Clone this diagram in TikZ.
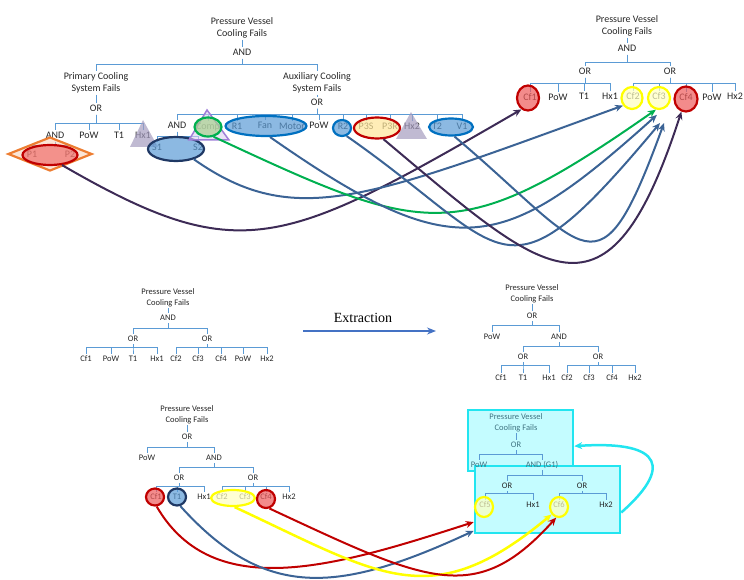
\documentclass[tikz,border=0pt]{standalone}
\usepackage{fontspec}
\setmainfont{Carlito}
\newfontfamily\timesfont{Liberation Serif}
\usetikzlibrary{
    shapes.geometric,
    arrows.meta
}
\definecolor{treeblue}{HTML}{5B9BD5}
\definecolor{hlblue}{HTML}{5B9BD5}
\definecolor{hlblueb}{HTML}{0070C0}
\definecolor{hlnavy}{HTML}{1F3864}
\definecolor{hlred}{HTML}{C00000}
\definecolor{cfred}{HTML}{EE5A5A}
\definecolor{hlyel}{HTML}{FFFF00}
\definecolor{cfyel}{HTML}{FFFFC0}
\definecolor{p3yel}{HTML}{FFE699}
\definecolor{hlgreen}{HTML}{00B050}
\definecolor{cfgreen}{HTML}{A9D18E}
\definecolor{hlorange}{HTML}{ED7D31}
\definecolor{cforange}{HTML}{F8CBAD}
\definecolor{trigray}{HTML}{A59CBF}
\definecolor{trilila}{HTML}{A07FD8}
\definecolor{trililf}{HTML}{DCD0F2}
\definecolor{cpurple}{HTML}{3D2B56}
\definecolor{cblue}{HTML}{3B6395}
\definecolor{cyanb}{HTML}{22E5F0}
\definecolor{cyanf}{HTML}{C4FCFF}
\definecolor{boxtxt}{HTML}{3F7482}
\definecolor{extblue}{HTML}{4472C4}

\tikzset{
    lbl/.style={font=\fontsize{10}{12}\selectfont, inner sep=1pt, text height=7.2pt, text depth=1.7pt, text=black!85},
    ttl/.style={font=\fontsize{10}{12.5}\selectfont, inner sep=1pt, align=center, text=black!85},
    slbl/.style={font=\fontsize{8.5}{10}\selectfont, inner sep=1pt, text height=6.1pt, text depth=1.5pt, text=black!85},
    sttl/.style={font=\fontsize{8.5}{10.5}\selectfont, inner sep=1pt, align=center, text=black!85},
    tline/.style={draw=treeblue, line width=0.7pt},
    hl/.style={ellipse, inner sep=0pt, line width=2.2pt, fill opacity=0.7},
    redhl/.style={hl, draw=hlred, fill=cfred},
    yelhl/.style={hl, draw=hlyel, fill=cfyel},
    bluehl/.style={hl, draw=hlblueb, fill=hlblue},
    navyhl/.style={hl, draw=hlnavy, fill=hlblue},
    cbox/.style={draw=cyanb, fill=cyanf, line width=2.5pt, inner sep=0pt},
    conn/.style={line width=2pt, -{Stealth[length=8pt,width=7pt]}}
}

\begin{document}
\begin{tikzpicture}[x=1pt,y=-1pt]
\useasboundingbox (0,0) rectangle (744,580);

% cyan boxes behind the reduced tree
\node[cbox, minimum width=105, minimum height=61] (box1) at (520.5,440.5) {};
\node[cbox, minimum width=145, minimum height=67] (box2) at (547.5,499.5) {};

% ---- tree A: full fault tree
\node[ttl] (aTop) at (242,28) {Pressure Vessel\\Cooling Fails};
\node[lbl] (aAnd) at (242,53) {AND};
\node[ttl] (aPri) at (96,83) {Primary Cooling\\System Fails};
\node[ttl] (aAux) at (317,83) {Auxiliary Cooling\\System Fails};
\node[lbl] (aOrP) at (96,109) {OR};
\node[lbl] (aOrX) at (317,103) {OR};
\node[lbl] (aAnd2) at (55,136) {AND};
\node[lbl] (aPow1) at (89,136) {PoW};
\node[lbl] (aT1) at (119,136) {T1};
\node[lbl] (aHx1) at (143,136) {Hx1};
\node[lbl] (aP1) at (32,155) {P1};
\node[lbl] (aP2) at (70,155) {P2};
\node[lbl] (aAnd3) at (177,126) {AND};
\node[lbl] (aComp) at (208,127) {Comp};
\node[lbl] (aR1) at (237,127) {R1};
\node[lbl] (aFan) at (265,126) {Fan};
\node[lbl] (aMot) at (292,127) {Motor};
\node[lbl] (aPow2) at (319,126) {PoW};
\node[lbl] (aR2) at (343,127) {R2};
\node[lbl] (aP3S) at (366,127) {P3S};
\node[lbl] (aP3R) at (390,127) {P3R};
\node[lbl] (aHx2) at (412,127) {Hx2};
\node[lbl] (aT2) at (437,127) {T2};
\node[lbl] (aV1) at (462,127) {V1};
\node[lbl] (aS1) at (157,148) {S1};
\node[lbl] (aS2) at (198,148) {S2};

\draw[tline] (aTop) -- (aAnd);
\foreach \c in {aPri,aAux} \draw[tline] (aAnd.south) -- ++(0,5.5) -| (\c.north);
\draw[tline] (aPri) -- (aOrP);
\draw[tline] (aAux) -- (aOrX);
\foreach \c in {aAnd2,aPow1,aT1,aHx1} \draw[tline] (aOrP.south) -- ++(0,8.5) -| (\c.north);
\foreach \c in {aAnd3,aComp,aR1,aFan,aMot,aPow2,aR2,aP3S,aP3R,aHx2,aT2,aV1}
    \draw[tline] (aOrX.south) -- ++(0,5.5) -| (\c.north);
\foreach \c in {aP1,aP2} \draw[tline] (aAnd2.south) -- ++(0,3.5) -| (\c.north);
\foreach \c in {aS1,aS2} \draw[tline] (aAnd3.south) -- ++(0,4.5) -| (\c.north);

% ---- tree B: after merging
\node[ttl] (bTop) at (627,26) {Pressure Vessel\\Cooling Fails};
\node[lbl] (bAnd) at (627,49) {AND};
\node[lbl] (bOr1) at (585,72) {OR};
\node[lbl] (bOr2) at (670,72) {OR};
\node[lbl] (bCf1) at (530,98) {Cf1};
\node[lbl] (bPow1) at (558,98) {PoW};
\node[lbl] (bT1) at (584,97) {T1};
\node[lbl] (bHx1) at (610,97) {Hx1};
\node[lbl] (bCf2) at (633,97) {Cf2};
\node[lbl] (bCf3) at (659,97) {Cf3};
\node[lbl] (bCf4) at (686,98) {Cf4};
\node[lbl] (bPow2) at (712,98) {PoW};
\node[lbl] (bHx2) at (735,97) {Hx2};

\draw[tline] (bTop) -- (bAnd);
\foreach \c in {bOr1,bOr2} \draw[tline] (bAnd.south) -- ++(0,7.5) -| (\c.north);
\foreach \c in {bCf1,bPow1,bT1,bHx1} \draw[tline] (bOr1.south) -- ++(0,5.5) -| (\c.north);
\foreach \c in {bCf2,bCf3,bCf4,bPow2,bHx2} \draw[tline] (bOr2.south) -- ++(0,5.5) -| (\c.north);

% ---- tree C: before extraction
\node[sttl] (cTop) at (168,298) {Pressure Vessel\\Cooling Fails};
\node[slbl] (cAnd) at (168,318) {AND};
\node[slbl] (cOr1) at (133,339) {OR};
\node[slbl] (cOr2) at (207,339) {OR};
\node[slbl] (cCf1) at (86,359) {Cf1};
\node[slbl] (cPow1) at (111,359) {PoW};
\node[slbl] (cT1) at (133,359) {T1};
\node[slbl] (cHx1) at (157,359) {Hx1};
\node[slbl] (cCf2) at (176,359) {Cf2};
\node[slbl] (cCf3) at (198,359) {Cf3};
\node[slbl] (cCf4) at (221,359) {Cf4};
\node[slbl] (cPow2) at (243,359) {PoW};
\node[slbl] (cHx2) at (267,359) {Hx2};

\draw[tline] (cTop) -- (cAnd);
\foreach \c in {cOr1,cOr2} \draw[tline] (cAnd.south) -- ++(0,5.3) -| (\c.north);
\foreach \c in {cCf1,cPow1,cT1,cHx1} \draw[tline] (cOr1.south) -- ++(0,3.3) -| (\c.north);
\foreach \c in {cCf2,cCf3,cCf4,cPow2,cHx2} \draw[tline] (cOr2.south) -- ++(0,3.3) -| (\c.north);

% extraction arrow
\coordinate (ext1) at (303,331);
\coordinate (ext2) at (436,331);
\draw[extblue, line width=1.2pt, -{Stealth[length=9pt,width=7pt]}] (ext1) -- (ext2);
\node[font=\timesfont\fontsize{14}{16}\selectfont] (extLbl) at (363,318) {Extraction};

% ---- tree D: after extraction
\node[sttl] (dTop) at (532,294) {Pressure Vessel\\Cooling Fails};
\node[slbl] (dOr) at (532,316) {OR};
\node[slbl] (dPow) at (492,337) {PoW};
\node[slbl] (dAnd) at (559,337) {AND};
\node[slbl] (dOr1) at (523,357) {OR};
\node[slbl] (dOr2) at (598,357) {OR};
\node[slbl] (dCf1) at (501,378) {Cf1};
\node[slbl] (dT1) at (523,378) {T1};
\node[slbl] (dHx1) at (549,378) {Hx1};
\node[slbl] (dCf2) at (567,378) {Cf2};
\node[slbl] (dCf3) at (589,378) {Cf3};
\node[slbl] (dCf4) at (612,378) {Cf4};
\node[slbl] (dHx2) at (635,378) {Hx2};

\draw[tline] (dTop) -- (dOr);
\foreach \c in {dPow,dAnd} \draw[tline] (dOr.south) -- ++(0,4.3) -| (\c.north);
\foreach \c in {dOr1,dOr2} \draw[tline] (dAnd.south) -- ++(0,4.3) -| (\c.north);
\foreach \c in {dCf1,dT1,dHx1} \draw[tline] (dOr1.south) -- ++(0,3.3) -| (\c.north);
\foreach \c in {dCf2,dCf3,dCf4,dHx2} \draw[tline] (dOr2.south) -- ++(0,3.3) -| (\c.north);

% ---- tree E: bottom left
\node[sttl] (eTop) at (187,415) {Pressure Vessel\\Cooling Fails};
\node[slbl] (eOr) at (187,437) {OR};
\node[slbl] (ePow) at (147,458) {PoW};
\node[slbl] (eAnd) at (214,458) {AND};
\node[slbl] (eOr1) at (179,478) {OR};
\node[slbl] (eOr2) at (253,478) {OR};
\node[slbl] (eCf1) at (156,497) {Cf1};
\node[slbl] (eT1) at (177,497) {T1};
\node[slbl] (eHx1) at (204,497) {Hx1};
\node[slbl] (eCf2) at (222,497) {Cf2};
\node[slbl] (eCf3) at (245,497) {Cf3};
\node[slbl] (eCf4) at (266,497) {Cf4};
\node[slbl] (eHx2) at (289,497) {Hx2};

\draw[tline] (eTop) -- (eOr);
\foreach \c in {ePow,eAnd} \draw[tline] (eOr.south) -- ++(0,5.3) -| (\c.north);
\foreach \c in {eOr1,eOr2} \draw[tline] (eAnd.south) -- ++(0,4.3) -| (\c.north);
\foreach \c in {eCf1,eT1,eHx1} \draw[tline] (eOr1.south) -- ++(0,3.3) -| (\c.north);
\foreach \c in {eCf2,eCf3,eCf4,eHx2} \draw[tline] (eOr2.south) -- ++(0,3.3) -| (\c.north);

% ---- tree F: bottom right, in the boxes
\node[sttl, text=boxtxt] (fTop) at (516,423) {Pressure Vessel\\Cooling Fails};
\node[slbl, text=boxtxt] (fOr) at (516,445) {OR};
\node[slbl, text=boxtxt] (fPow) at (479,465) {PoW};
\node[slbl, text=boxtxt] (fAnd) at (542,465) {AND (G1)};
\node[slbl] (fOr1) at (507,486) {OR};
\node[slbl] (fOr2) at (582,486) {OR};
\node[slbl] (fCf5) at (485,505) {Cf5};
\node[slbl] (fHx1) at (533,505) {Hx1};
\node[slbl] (fCf6) at (559,505) {Cf6};
\node[slbl] (fHx2) at (606,505) {Hx2};

\draw[tline] (fTop) -- (fOr);
\foreach \c in {fPow,fAnd} \draw[tline] (fOr.south) -- ++(0,4.3) -| (\c.north);
\foreach \c in {fOr1,fOr2} \draw[tline] (fAnd.south) -- ++(0,5.3) -| (\c.north);
\foreach \c in {fCf5,fHx1} \draw[tline] (fOr1.south) -- ++(0,2.5) -| (\c.north);
\foreach \c in {fCf6,fHx2} \draw[tline] (fOr2.south) -- ++(0,2.5) -| (\c.north);

% ---- highlight marks (top)
\node[diamond, inner sep=0pt, minimum width=84, minimum height=34, line width=2.2pt,
      draw=hlorange, fill=cforange, fill opacity=0.5] (mDia) at (50,154) {};
\node[redhl, fill opacity=0.6, minimum width=55, minimum height=20] (mP12) at (50,155) {};
\filldraw[draw=none, fill=trigray, fill opacity=0.7] (130,147) -- (143,120) -- (158,147) -- cycle;
\node[navyhl, minimum width=56, minimum height=24] (mS12) at (176,149) {};
\filldraw[draw=trilila, line width=1.5pt, fill=trililf, fill opacity=0.6] (189,140) -- (207,110) -- (229,140) -- cycle;
\node[hl, draw=hlgreen, fill=cfgreen, minimum width=27, minimum height=19] (mComp) at (208,127) {};
\node[bluehl, minimum width=81, minimum height=20] (mRFM) at (266,126) {};
\node[bluehl, minimum width=18, minimum height=16] (mR2) at (342,128) {};
\filldraw[draw=none, fill=trigray, fill opacity=0.7] (396,139) -- (411,112) -- (427,139) -- cycle;
\node[redhl, fill=p3yel, minimum width=46, minimum height=21] (mP3) at (377,128) {};
\node[bluehl, minimum width=44, minimum height=17] (mTV) at (451,127) {};
\node[redhl, minimum width=22, minimum height=25] (mCf1) at (528,98) {};
\node[yelhl, minimum width=21, minimum height=22] (mCf2) at (632,98) {};
\node[yelhl, minimum width=22, minimum height=22] (mCf3) at (659,98) {};
\node[redhl, minimum width=23, minimum height=25] (mCf4) at (686,99) {};

% ---- highlight marks (bottom)
\node[redhl, minimum width=18, minimum height=17] (nCf1) at (155,497) {};
\node[navyhl, minimum width=18, minimum height=17] (nT1) at (177,497) {};
\node[yelhl, minimum width=44, minimum height=16] (nCf23) at (233,498) {};
\node[redhl, minimum width=18, minimum height=18] (nCf4) at (266,499) {};
\node[yelhl, minimum width=18, minimum height=20] (nCf5) at (484,507) {};
\node[yelhl, minimum width=18, minimum height=20] (nCf6) at (559,507) {};

% ---- merge arrows (top)
\draw[conn, cpurple] (mP12.-40) .. controls +(178,103) and +(-240,139) .. (mCf1.-120);
\draw[conn, cblue] (mS12.-30) .. controls +(101,71) and +(-256,93) .. (mCf2.-140);
\draw[conn, hlgreen] (mComp.-60) .. controls +(213,99) and +(-199,139) .. (mCf3.-105);
\draw[conn, cblue] (mRFM.-70) .. controls +(186,130) and +(-155,139) .. ([yshift=-5pt]mCf3.-100);
\draw[conn, cblue] (mR2.-60) .. controls +(165,115) and +(-159,190) .. ([xshift=1pt,yshift=-13pt]mCf3.south);
\draw[conn, cblue] (mTV.-70) .. controls +(135,114) and +(-66,181) .. ([xshift=5pt,yshift=-13pt]mCf3.south);
\draw[conn, cpurple] (mP3.-60) .. controls +(162,136) and +(-74,228) .. (mCf4.-110);

% ---- merge arrows (bottom)
\draw[conn, hlred] (nCf1.-80) .. controls +(57,98) and +(-137,44) .. (box2.-163);
\draw[conn, cblue] (nT1.-70) .. controls +(84,93) and +(-138,64) .. (box2.-157);
\draw[conn, hlyel, line width=2.5pt] (nCf23.-80) .. controls +(146,68) and +(-121,101) .. (nCf6.-135);
\draw[conn, hlred] (nCf4.-70) .. controls +(157,73) and +(-81,90) .. (nCf6.-105);
\draw[conn, cyanb, line width=2.5pt] (box2.-10) .. controls +(49,-43) and +(92,-6) .. (box1.-6);

\end{tikzpicture}
\end{document}
